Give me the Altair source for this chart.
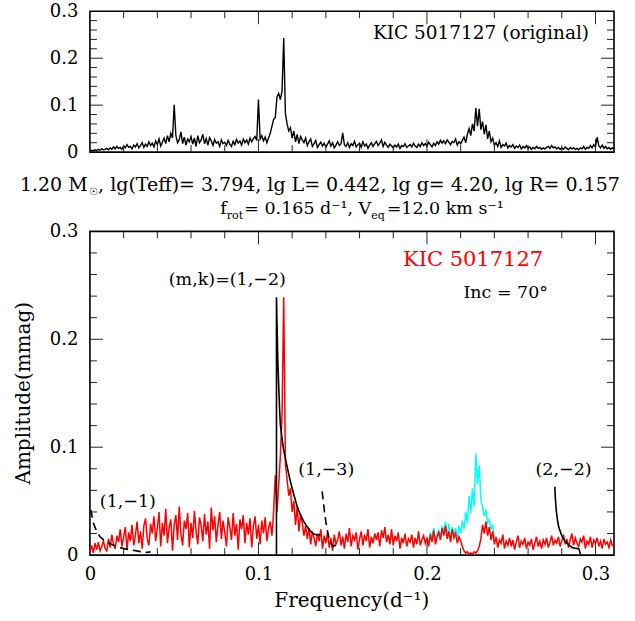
import altair as alt
import pandas as pd

FONT = "DejaVu Serif"
DF = 0.001  # frequency sampling of the spectra (d^-1)

# ---- top panel: original amplitude spectrum (0.000 ... 0.311) ----
top_amp = [
    0.002, 0.004, 0.003, 0.005, 0.003, 0.006, 0.004, 0.007, 0.005, 0.006,
    0.008, 0.005, 0.009, 0.006, 0.011, 0.007, 0.012, 0.008, 0.010, 0.006,
    0.013, 0.009, 0.016, 0.010, 0.012, 0.007, 0.015, 0.011, 0.018, 0.009,
    0.014, 0.020, 0.010, 0.017, 0.012, 0.022, 0.014, 0.019, 0.011, 0.024,
    0.016, 0.028, 0.013, 0.021, 0.030, 0.018, 0.035, 0.022, 0.040, 0.030,
    0.101, 0.035, 0.020, 0.027, 0.043, 0.018, 0.032, 0.015, 0.028, 0.022,
    0.033, 0.017, 0.030, 0.012, 0.035, 0.020, 0.026, 0.038, 0.018, 0.029,
    0.015, 0.031, 0.024, 0.014, 0.027, 0.019, 0.022, 0.012, 0.026, 0.018,
    0.021, 0.014, 0.025, 0.017, 0.012, 0.023, 0.016, 0.027, 0.019, 0.024,
    0.015, 0.028, 0.020, 0.026, 0.017, 0.030, 0.022, 0.029, 0.033, 0.025,
    0.112, 0.028, 0.035, 0.024, 0.032, 0.020, 0.030, 0.040, 0.055, 0.070,
    0.074, 0.118, 0.125, 0.112, 0.130, 0.243, 0.082, 0.060, 0.045, 0.052,
    0.030, 0.045, 0.022, 0.038, 0.018, 0.033, 0.026, 0.020, 0.030, 0.014,
    0.022, 0.028, 0.012, 0.018, 0.025, 0.010, 0.016, 0.021, 0.013, 0.019,
    0.011, 0.017, 0.024, 0.013, 0.020, 0.009, 0.015, 0.022, 0.014, 0.018,
    0.041, 0.016, 0.012, 0.020, 0.010, 0.018, 0.014, 0.023, 0.011, 0.016,
    0.019, 0.010, 0.022, 0.013, 0.017, 0.008, 0.015, 0.020, 0.012, 0.018,
    0.023, 0.014, 0.019, 0.026, 0.012, 0.021, 0.015, 0.010, 0.017, 0.013,
    0.009, 0.015, 0.011, 0.017, 0.008, 0.014, 0.012, 0.018, 0.010, 0.013,
    0.016, 0.011, 0.019, 0.013, 0.010, 0.017, 0.012, 0.020, 0.014, 0.018,
    0.013, 0.021, 0.016, 0.011, 0.019, 0.014, 0.022, 0.017, 0.025, 0.019,
    0.024, 0.018, 0.026, 0.021, 0.016, 0.023, 0.020, 0.028, 0.015, 0.022,
    0.018, 0.025, 0.032, 0.020, 0.038, 0.050, 0.035, 0.060, 0.045, 0.094,
    0.055, 0.092, 0.048, 0.065, 0.038, 0.058, 0.028, 0.045, 0.022, 0.030,
    0.015, 0.020, 0.012, 0.024, 0.010, 0.016, 0.013, 0.019, 0.009, 0.014,
    0.011, 0.016, 0.008, 0.013, 0.010, 0.015, 0.007, 0.012, 0.009, 0.014,
    0.008, 0.011, 0.006, 0.010, 0.007, 0.012, 0.008, 0.010, 0.006, 0.009,
    0.007, 0.010, 0.012, 0.008, 0.014, 0.009, 0.011, 0.007, 0.010, 0.006,
    0.009, 0.006, 0.011, 0.008, 0.005, 0.010, 0.007, 0.009, 0.006, 0.008,
    0.005, 0.009, 0.007, 0.012, 0.006, 0.010, 0.008, 0.014, 0.009, 0.016,
    0.011, 0.032, 0.013, 0.009, 0.015, 0.008, 0.012, 0.007, 0.010, 0.006,
    0.009, 0.007,
]

# ---- bottom panel: red spectrum (0.000 ... 0.311) ----
red_amp = [
    0.003, 0.009, 0.002, 0.011, 0.005, 0.012, 0.004, 0.008, 0.013, 0.006,
    0.004, 0.015, 0.007, 0.019, 0.010, 0.006, 0.018, 0.012, 0.024, 0.008,
    0.017, 0.026, 0.005, 0.021, 0.013, 0.028, 0.009, 0.019, 0.031, 0.011,
    0.022, 0.006, 0.027, 0.034, 0.015, 0.009, 0.029, 0.020, 0.036, 0.013,
    0.025, 0.040, 0.008, 0.030, 0.018, 0.043, 0.011, 0.026, 0.033, 0.004,
    0.028, 0.037, 0.014, 0.045, 0.020, 0.009, 0.032, 0.024, 0.039, 0.007,
    0.030, 0.016, 0.041, 0.022, 0.010, 0.035, 0.027, 0.013, 0.038, 0.019,
    0.031, 0.006, 0.044, 0.023, 0.036, 0.012, 0.028, 0.040, 0.015, 0.032,
    0.021, 0.008, 0.035, 0.026, 0.014, 0.039, 0.018, 0.029, 0.005, 0.033,
    0.024, 0.037, 0.011, 0.030, 0.019, 0.034, 0.007, 0.027, 0.036, 0.015,
    0.028, 0.010, 0.032, 0.020, 0.035, 0.013, 0.025, 0.031, 0.018, 0.040,
    0.074, 0.040, 0.065, 0.092, 0.130, 0.239, 0.085, 0.070, 0.055, 0.062,
    0.040, 0.050, 0.028, 0.045, 0.022, 0.038, 0.030, 0.018, 0.027, 0.015,
    0.025, 0.010, 0.022, 0.016, 0.008, 0.020, 0.013, 0.024, 0.006, 0.018,
    0.011, 0.021, 0.007, 0.016, 0.004, 0.019, 0.010, 0.014, 0.022, 0.009,
    0.017, 0.006, 0.020, 0.012, 0.025, 0.008, 0.018, 0.014, 0.021, 0.005,
    0.015, 0.022, 0.009, 0.019, 0.013, 0.024, 0.007, 0.017, 0.011, 0.020,
    0.014, 0.021, 0.008, 0.023, 0.016, 0.026, 0.012, 0.019, 0.010, 0.024,
    0.009, 0.018, 0.013, 0.021, 0.006, 0.016, 0.011, 0.020, 0.008, 0.015,
    0.012, 0.019, 0.007, 0.016, 0.010, 0.022, 0.009, 0.014, 0.018, 0.011,
    0.016, 0.008, 0.019, 0.012, 0.023, 0.010, 0.017, 0.021, 0.014, 0.025,
    0.018, 0.027, 0.015, 0.022, 0.012, 0.024, 0.016, 0.020, 0.011, 0.017,
    0.013, 0.008, 0.004, 0.002, 0.003, 0.001, 0.002, 0.001, 0.003, 0.002,
    0.004, 0.008, 0.015, 0.028, 0.020, 0.031, 0.018, 0.026, 0.014, 0.022,
    0.010, 0.017, 0.007, 0.014, 0.011, 0.019, 0.006, 0.013, 0.009, 0.016,
    0.008, 0.014, 0.005, 0.012, 0.018, 0.007, 0.013, 0.010, 0.016, 0.006,
    0.012, 0.009, 0.015, 0.005, 0.011, 0.017, 0.008, 0.013, 0.006, 0.014,
    0.010, 0.016, 0.007, 0.012, 0.018, 0.009, 0.014, 0.011, 0.017, 0.008,
    0.013, 0.019, 0.010, 0.015, 0.007, 0.014, 0.020, 0.009, 0.016, 0.011,
    0.008, 0.015, 0.012, 0.018, 0.006, 0.013, 0.010, 0.017, 0.007, 0.014,
    0.011, 0.016, 0.008, 0.013, 0.006, 0.015, 0.010, 0.012, 0.007, 0.014,
    0.009, 0.011,
]

# ---- bottom panel: cyan spectrum, visible part (0.200 ... 0.240) ----
cyan_start = 200  # index of 0.200 on the frequency grid
cyan_amp = [
    0.018, 0.012, 0.021, 0.016, 0.025, 0.014, 0.020, 0.023, 0.017, 0.027,
    0.021, 0.031, 0.018, 0.029, 0.015, 0.026, 0.019, 0.025, 0.016, 0.027,
    0.020, 0.032, 0.024, 0.040, 0.030, 0.055, 0.039, 0.062, 0.045, 0.094,
    0.066, 0.083, 0.051, 0.045, 0.036, 0.042, 0.030, 0.033, 0.024, 0.028,
    0.016,
]

# ---- model curves ----
m11_f = [0.0005, 0.002, 0.004, 0.006, 0.009, 0.012, 0.016, 0.020, 0.025, 0.030, 0.034, 0.036]
m11_a = [0.042, 0.030, 0.022, 0.017, 0.013, 0.0105, 0.0078, 0.006, 0.0046, 0.0032, 0.0025, 0.003]

m12_f = [0.1107, 0.1107, 0.1110, 0.1115, 0.1120, 0.1125, 0.1130, 0.1140, 0.1150, 0.1170,
         0.1190, 0.1210, 0.1230, 0.1250, 0.1270, 0.1290, 0.1310, 0.1330, 0.1350, 0.1365]
m12_a = [0.0, 0.239, 0.215, 0.180, 0.158, 0.137, 0.121, 0.108, 0.097, 0.082,
         0.068, 0.056, 0.045, 0.037, 0.031, 0.026, 0.022, 0.0195, 0.0185, 0.019]

m13_f = [0.1378, 0.1385, 0.1392, 0.1400, 0.1410, 0.1420, 0.1440, 0.1455, 0.1470]
m13_a = [0.059, 0.050, 0.040, 0.031, 0.022, 0.015, 0.008, 0.009, 0.004]

m22_f = [0.2759, 0.2761, 0.2767, 0.2775, 0.2782, 0.2800, 0.2822, 0.2845, 0.2862, 0.2885, 0.2901, 0.2911]
m22_a = [0.0633, 0.055, 0.0417, 0.032, 0.026, 0.018, 0.0123, 0.009, 0.0071, 0.0062, 0.006, 0.001]

# ---- axes ----
x_domain = [0, 0.311]
y_domain = [0, 0.3]
axis_label_values = [0, 0.1, 0.2, 0.3]
x_minor = [0.02, 0.04, 0.06, 0.08, 0.12, 0.14, 0.16, 0.18, 0.22, 0.24, 0.26, 0.28]
x_major = [0.1, 0.2, 0.3]
y_minor = [0.02, 0.04, 0.06, 0.08, 0.12, 0.14, 0.16, 0.18, 0.22, 0.24, 0.26, 0.28]
y_major = [0.1, 0.2]

W = 524.5
HT = 141
HB = 324

freqs = [round(i * DF, 4) for i in range(len(top_amp))]

xs = alt.Scale(domain=x_domain, nice=False, zero=False)
ys = alt.Scale(domain=y_domain, nice=False)


def lab_axis(pad):
    return alt.Axis(values=axis_label_values, format="~g", ticks=False, tickSize=0,
                    domain=False, grid=False, title=None, labelPadding=pad,
                    labelFont=FONT, labelFontSize=18, labelColor="black",
                    labelFlush=False, labelOverlap=False, labelBound=False)


XT = alt.X("f:Q", scale=xs, axis=None)
YT = alt.Y("a:Q", scale=ys, axis=lab_axis(12))
XB = alt.X("f:Q", scale=xs, axis=lab_axis(10.5))
YB = alt.Y("a:Q", scale=ys, axis=lab_axis(12))


def tick_layers(X, Y, H):
    out = []
    for vals, L in ((x_minor, 7), (x_major, 13)):
        base = alt.Chart(pd.DataFrame({"f": vals})).mark_rule(color="#222", strokeWidth=1)
        out.append(base.encode(x=X, y=alt.value(H), y2=alt.value(H - L)))
        out.append(base.encode(x=X, y=alt.value(0), y2=alt.value(L)))
    for vals, L in ((y_minor, 7), (y_major, 13)):
        base = alt.Chart(pd.DataFrame({"a": vals})).mark_rule(color="#222", strokeWidth=1)
        out.append(base.encode(y=Y, x=alt.value(0), x2=alt.value(L)))
        out.append(base.encode(y=Y, x=alt.value(W), x2=alt.value(W - L)))
    return out


def label(txt, x, y, size=17.5, align="left", color="black", font=FONT, angle=0):
    kw = dict(font=font, fontSize=size, align=align, baseline="alphabetic", color=color)
    if angle:
        kw["angle"] = angle
    return alt.Chart(pd.DataFrame({"t": [txt]})).mark_text(**kw).encode(
        text="t:N", x=alt.value(x), y=alt.value(y))


# ---------------- top panel ----------------
top_df = pd.DataFrame({"f": freqs, "a": top_amp})
top_line = alt.Chart(top_df).mark_line(color="black", strokeWidth=1.4).encode(x=XT, y=YT)

L1 = 180.3
L2 = 203.3
top_texts = [
    label("KIC 5017127 (original)", 499.5, 27.3, size=18.5, align="right"),
    label("1.20 M", -2.3, L1, size=19, align="right"),
    label("\u2609", -1.0, L1 + 4, size=10, font="DejaVu Sans"),
    label(",  lg(Teff)= 3.794, lg L= 0.442, lg g= 4.20, lg R= 0.157", 8.2, L1, size=19),
    label("f", 130.5, L2, size=17.5),
    label("rot", 137, L2 + 5, size=11),
    label("= 0.165 d\u207b\u00b9, V", 154.5, L2, size=17.5),
    label("eq", 281.5, L2 + 5, size=11),
    label("=12.0 km s\u207b\u00b9", 297, L2, size=17.5),
]

top = alt.layer(top_line, *tick_layers(XT, YT, HT), *top_texts).properties(width=W, height=HT)

# ---------------- bottom panel ----------------
red_df = pd.DataFrame({"f": freqs, "a": red_amp})
cyan_df = pd.DataFrame({"f": freqs[cyan_start:cyan_start + len(cyan_amp)], "a": cyan_amp})

cyan_line = alt.Chart(cyan_df).mark_line(color="#00ffff", strokeWidth=1.5).encode(x=XB, y=YB)
red_line = alt.Chart(red_df).mark_line(color="#ff0000", strokeWidth=1.5).encode(x=XB, y=YB)


def model(fs, amps, dashed):
    d = pd.DataFrame({"f": fs, "a": amps, "i": list(range(len(fs)))})
    kw = dict(color="black", strokeWidth=1.6)
    if dashed:
        kw["strokeDash"] = [8, 5]
    return alt.Chart(d).mark_line(**kw).encode(x=XB, y=YB, order="i:Q")


models = [
    model(m11_f, m11_a, True),
    model(m12_f, m12_a, False),
    model(m13_f, m13_a, True),
    model(m22_f, m22_a, False),
]

bottom_texts = [
    label("KIC 5017127", 453.5, 34.7, size=21, align="right", color="#ff0000"),
    label("Inc = 70\u00b0", 458.5, 67, size=17.5, align="right"),
    label("(m,k)=(1,\u22122)", 137.5, 53.5, size=17.5, align="center"),
    label("(1,\u22121)", 38, 275.5, size=17.5, align="center"),
    label("(1,\u22123)", 236.5, 243.5, size=17.5, align="center"),
    label("(2,\u22122)", 474, 243.5, size=17.5, align="center"),
    label("Amplitude(mmag)", -59.5, 162, size=20, align="center", angle=270),
    label("Frequency(d\u207b\u00b9)", 262, 376, size=20, align="center"),
]

# invisible frame that fixes the page extent
extent = alt.Chart(pd.DataFrame({"z": [0]})).mark_rule(opacity=0, strokeWidth=1).encode(
    x=alt.value(-89), x2=alt.value(544), y=alt.value(-230.5), y2=alt.value(388.5))

bottom = alt.layer(cyan_line, red_line, *models, *tick_layers(XB, YB, HB), *bottom_texts,
                   extent).properties(width=W, height=HB)

chart = alt.vconcat(top, bottom, spacing=79.3, bounds="flush").properties(
    padding=0, background="white"
).configure_view(stroke="black", strokeWidth=1.6)

chart.save("out.html", embed_options={"renderer": "svg", "actions": False})
